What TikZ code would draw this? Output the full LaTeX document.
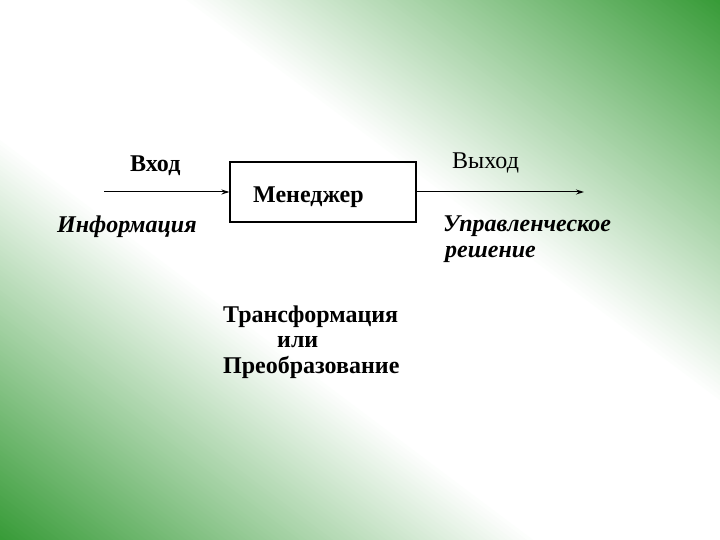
\documentclass[tikz,border=0pt]{standalone}
\usepackage{fontspec}
\setmainfont{Liberation Serif}
\usetikzlibrary{arrows.meta}
\definecolor{bggreen}{RGB}{55,155,55}
\tikzset{
  lbl/.style={anchor=base west, inner sep=0pt, font=\fontsize{24}{28}\selectfont},
  lblb/.style={lbl, font=\fontsize{24}{28}\selectfont\bfseries},
  lblbi/.style={lbl, font=\fontsize{24}{28}\selectfont\bfseries\itshape},
  arr/.style={line width=1pt, -{Stealth[length=8pt,width=5pt]}},
  boxst/.style={draw, line width=1.1pt, rectangle, minimum width=186pt, minimum height=60pt, inner sep=0pt}
}
\begin{document}
\begin{tikzpicture}[x=1pt,y=-1pt]
\begin{scope}
\clip (0,0) rectangle (720,540);
\foreach \a in {-444,-440,...,440}{
  \pgfmathsetmacro\p{max(0,min(100,(abs(\a+2)-110)/322*100))}
  \fill[bggreen!\p!white]
    ({360+\a*0.6-400},{270-\a*0.8-300}) --
    ({360+\a*0.6+400},{270-\a*0.8+300}) --
    ({360+(\a+6)*0.6+400},{270-(\a+6)*0.8+300}) --
    ({360+(\a+6)*0.6-400},{270-(\a+6)*0.8-300}) -- cycle;
}
\end{scope}
\useasboundingbox (0,0) rectangle (720,540);
\node[boxst] (box) at (323,192) {};
\coordinate (inS) at (104,192);
\coordinate (outE) at (584,192);
\draw[arr] (inS) -- (box.west);
\draw[arr] (box.east) -- (outE);
\node[lblb] (vhod) at (130,172) {Вход};
\node[lblbi] (info) at (57,233) {Информация};
\node[lblb] (mgr) at (253,203) {Менеджер};
\node[lbl] (vyhod) at (452,169) {Выход};
\node[lblbi] (upr) at (443,231) {Управленческое};
\node[lblbi] (resh) at (445,258) {решение};
\node[lblb] (tr) at (223,322) {Трансформация};
\node[lblb] (ili) at (277,347) {или};
\node[lblb] (preo) at (223,373) {Преобразование};
\end{tikzpicture}
\end{document}
